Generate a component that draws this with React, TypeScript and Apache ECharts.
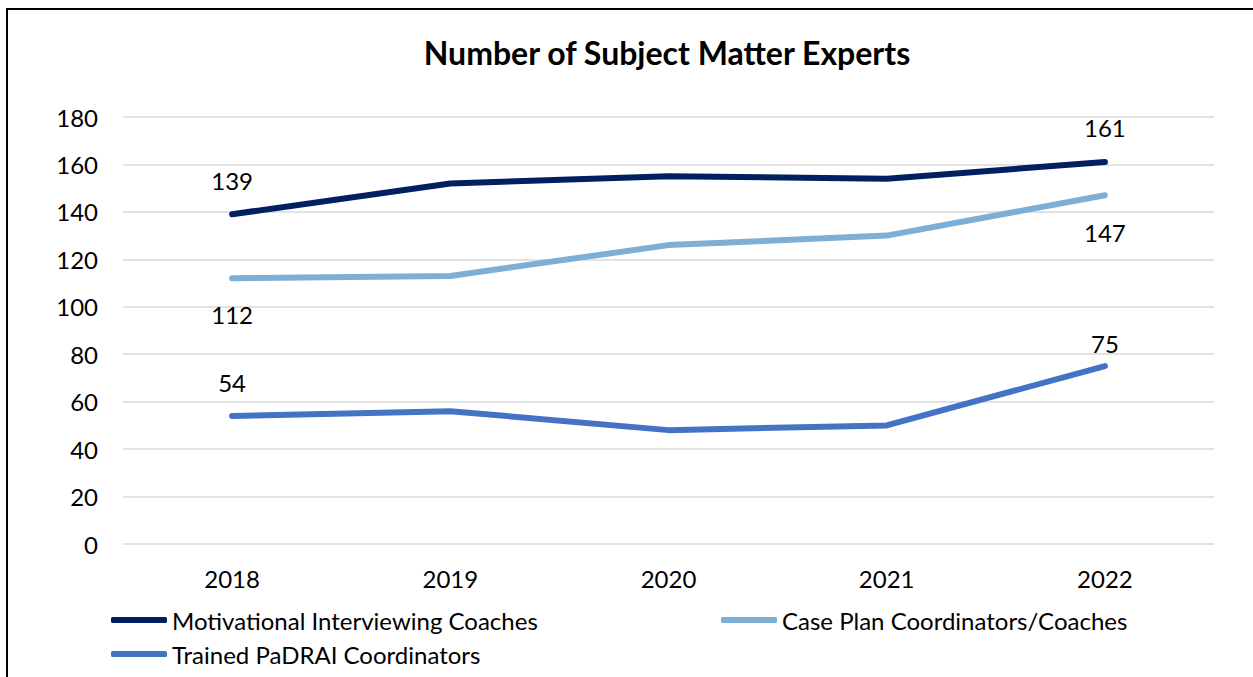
import React, { useEffect, useRef } from "react";
import * as echarts from "echarts";

const years = ["2018", "2019", "2020", "2021", "2022"];
const miCoaches = [139, 152, 155, 154, 161];
const casePlan = [112, 113, 126, 130, 147];
const padrai = [54, 56, 48, 50, 75];
const seriesNames = [
  "Motivational Interviewing Coaches",
  "Case Plan Coordinators/Coaches",
  "Trained PaDRAI Coordinators",
];
const titleText = "Number of Subject Matter Experts";

const FONT = "Lato";
const FS = 24;

function withLabels(values: number[], positions: string[], distances: number[]) {
  return values.map((v, i) => {
    if (i === 0 || i === values.length - 1) {
      const k = i === 0 ? 0 : 1;
      return {
        value: v,
        label: {
          show: true,
          position: positions[k],
          distance: distances[k],
          color: "#000",
          fontFamily: FONT,
          fontSize: FS,
        },
      };
    }
    return { value: v };
  });
}

export default function App() {
  const ref = useRef<HTMLDivElement>(null);
  useEffect(() => {
    const chart = echarts.init(ref.current!, null, { renderer: "svg" });
    const lineStyle = (c: string) => ({ color: c, width: 6, cap: "round", join: "round" });
    const common = {
      type: "line",
      showSymbol: true,
      symbol: "circle",
      symbolSize: 1,
    };
    chart.setOption({
      animation: false,
      backgroundColor: "#fff",
      textStyle: { fontFamily: FONT },
      title: {
        text: titleText,
        left: 662,
        textAlign: "center",
        top: 31,
        textStyle: { fontFamily: FONT, fontWeight: "bold", fontSize: 32, color: "#000" },
      },
      graphic: [
        {
          type: "rect",
          shape: { x: 7, y: 9, width: 1400, height: 800 },
          style: { fill: "none", stroke: "#000", lineWidth: 2 },
          silent: true,
          z: 100,
        },
      ],
      grid: { left: 123, right: 1253 - 1214, top: 117, bottom: 677 - 544 },
      legend: [
        {
          data: [seriesNames[0], seriesNames[2]],
          orient: "vertical",
          left: 111,
          top: 608,
          padding: 0,
          itemWidth: 56,
          itemHeight: 6,
          itemGap: 10,
          icon: "roundRect",
          textStyle: { fontFamily: FONT, fontSize: FS, color: "#000" },
        },
        {
          data: [seriesNames[1]],
          orient: "vertical",
          left: 721,
          top: 608,
          padding: 0,
          itemWidth: 56,
          itemHeight: 6,
          icon: "roundRect",
          textStyle: { fontFamily: FONT, fontSize: FS, color: "#000" },
        },
      ],
      xAxis: {
        type: "category",
        data: years,
        boundaryGap: true,
        axisLine: { show: false },
        axisTick: { show: false },
        axisLabel: { color: "#000", fontFamily: FONT, fontSize: FS, margin: 22 },
      },
      yAxis: {
        type: "value",
        min: 0,
        max: 180,
        interval: 20,
        axisLine: { show: false },
        axisTick: { show: false },
        axisLabel: { color: "#000", fontFamily: FONT, fontSize: FS, margin: 25 },
        splitLine: { lineStyle: { color: "#D9D9D9", width: 1.5 } },
      },
      series: [
        {
          ...common,
          name: seriesNames[0],
          data: withLabels(miCoaches, ["top", "top"], [21, 22]),
          color: "#002060",
          lineStyle: lineStyle("#002060"),
          z: 3,
        },
        {
          ...common,
          name: seriesNames[1],
          data: withLabels(casePlan, ["bottom", "bottom"], [24, 25]),
          color: "#7DAFD6",
          lineStyle: lineStyle("#7DAFD6"),
          z: 2,
        },
        {
          ...common,
          name: seriesNames[2],
          data: withLabels(padrai, ["top", "top"], [21, 10]),
          color: "#4472C4",
          lineStyle: lineStyle("#4472C4"),
          z: 2,
        },
      ],
    });
    return () => chart.dispose();
  }, []);
  return (
    <div
      ref={ref}
      style={{ position: "fixed", left: 0, top: 0, width: 1253, height: 677, background: "#fff" }}
    />
  );
}
